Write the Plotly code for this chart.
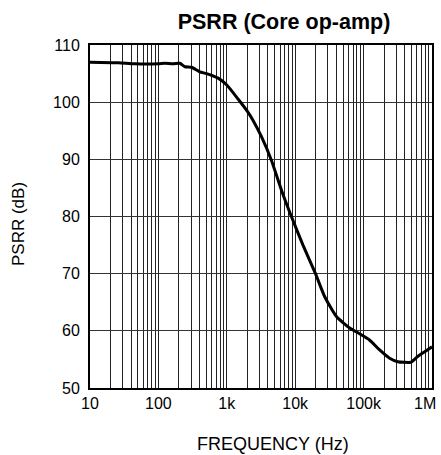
import plotly.graph_objects as go

freq = [10, 26, 45, 100, 124, 164, 206, 244, 305, 403, 506, 747, 1000, 1450,
        2000, 2400, 3200, 4500, 6300, 8800, 13000, 19800, 26900, 40000, 62500, 87000,
        122000, 170000, 240000, 316000, 490000, 617000, 822000, 1000000]
psrr = [107.0, 106.9, 106.7, 106.7, 106.8, 106.7, 106.8, 106.2, 106.1, 105.3,
        105.0, 104.2, 103.0, 100.6, 98.4, 96.9, 94.0, 89.8, 84.6, 80.0, 75.0, 70.0,
        66.0, 62.5, 60.5, 59.5, 58.4, 56.7, 55.2, 54.6, 54.5, 55.5, 56.5, 57.2]

decades = [10, 100, 1000, 10000, 100000, 1000000]
decade_labels = ["10", "100", "1k", "10k", "100k", "1M"]
y_ticks = [50, 60, 70, 80, 90, 100, 110]

xvals, xtext = [], []
for i, d in enumerate(decades[:-1]):
    xvals.append(d)
    xtext.append(decade_labels[i])
    for m in range(2, 10):
        xvals.append(d * m)
        xtext.append("")
xvals.append(decades[-1])
xtext.append("")  # last label drawn as an annotation so it stays inside the page

fig = go.Figure()
fig.add_trace(go.Scatter(x=freq, y=psrr, mode="lines",
                         line=dict(color="black", width=3, shape="spline", smoothing=0.5),
                         showlegend=False))

font = "Liberation Sans, Arial, sans-serif"
W, H = 441, 455
L, R, T, B = 90, 9, 45, 67
PH = H - T - B
fig.update_layout(
    width=W, height=H,
    margin=dict(l=L, r=R, t=T, b=B),
    paper_bgcolor="white", plot_bgcolor="white",
    font=dict(family=font, size=16, color="black"),
    title=dict(text="<b>PSRR (Core op-amp)</b>", x=284 / W, xanchor="center",
               y=1 - 21 / H, yanchor="middle", font=dict(size=21.5, family=font, color="black")),
    xaxis=dict(type="log", range=[1, 6], tickvals=xvals, ticktext=xtext,
               showgrid=True, gridcolor="#222", gridwidth=1,
               showline=True, linecolor="black", linewidth=2, mirror=True,
               ticks="", zeroline=False, automargin=False,
               tickfont=dict(size=16)),
    yaxis=dict(range=[50, 110], tickvals=y_ticks,
               showgrid=True, gridcolor="#333", gridwidth=1,
               showline=True, linecolor="black", linewidth=2, mirror=True,
               ticks="", zeroline=False, automargin=False, ticklabelstandoff=5,
               tickfont=dict(size=16)),
    annotations=[
        dict(text=decade_labels[-1], xref="x", yref="paper",
             x=6, y=-(403 - (H - B)) / PH, xanchor="right", yanchor="middle",
             xshift=6, showarrow=False, font=dict(size=16, family=font, color="black")),
        dict(text="FREQUENCY (Hz)", xref="paper", yref="paper",
             x=(273 - L) / (W - L - R), y=-(444 - (H - B)) / PH,
             xanchor="center", yanchor="middle", showarrow=False,
             font=dict(size=18, family=font, color="black")),
        dict(text="PSRR (dB)", xref="paper", yref="paper", textangle=-90,
             x=-(L - 18) / (W - L - R), y=((H - B) - 224) / PH,
             xanchor="center", yanchor="middle", showarrow=False,
             font=dict(size=17, family=font, color="black")),
    ],
)
fig.write_html("out.html", config={"displayModeBar": False},
               post_script="document.body.style.margin='0px';document.body.style.overflow='hidden';")
